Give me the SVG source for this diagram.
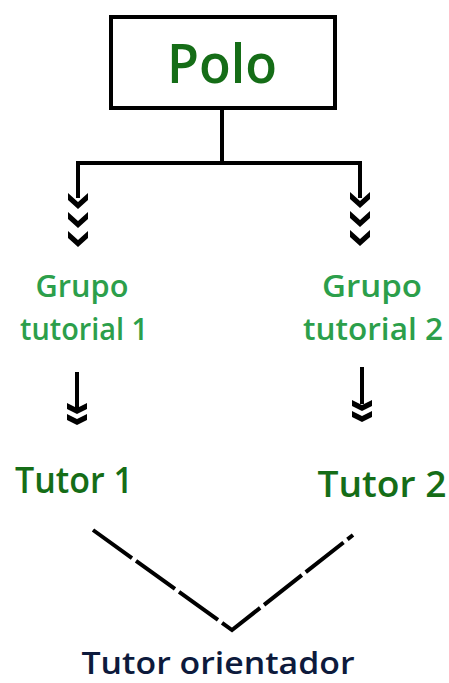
<svg xmlns="http://www.w3.org/2000/svg" width="449" height="683" viewBox="0 0 449 683">
<style>
.t{font-family:"Open Sans","Liberation Sans",sans-serif;font-weight:600;text-anchor:middle}
.dk{fill:#156d17}
.lt{fill:#2c9f4b}
.ln{fill:none;stroke:#000;stroke-width:4}
</style>
<defs>
<polygon id="chev" points="-10,0 0,9 10,0 10,7 0,16 -10,7" fill="#000"/>
<polygon id="chev2" points="-10,0 0,5 10,0 10,6 0,11 -10,6" fill="#000"/>
</defs>
<rect width="449" height="683" fill="#fff"/>
<g id="polo">
<rect x="111" y="17" width="224" height="91" fill="#fff" stroke="#000" stroke-width="4"/>
<text class="t dk" x="222" y="83" font-size="55" textLength="110" lengthAdjust="spacingAndGlyphs">Polo</text>
</g>
<g id="grupo1">
<text class="t lt" x="82" y="297" font-size="30" textLength="93" lengthAdjust="spacingAndGlyphs">Grupo</text>
<text class="t lt" x="84" y="340" font-size="30" textLength="128" lengthAdjust="spacingAndGlyphs">tutorial 1</text>
</g>
<g id="grupo2">
<text class="t lt" x="372" y="297" font-size="30" textLength="100" lengthAdjust="spacingAndGlyphs">Grupo</text>
<text class="t lt" x="373" y="340" font-size="30" textLength="140" lengthAdjust="spacingAndGlyphs">tutorial 2</text>
</g>
<g id="tutor1">
<text class="t dk" x="74" y="493" font-size="36" textLength="118" lengthAdjust="spacingAndGlyphs">Tutor 1</text>
</g>
<g id="tutor2">
<text class="t dk" x="382" y="497" font-size="36" textLength="129" lengthAdjust="spacingAndGlyphs">Tutor 2</text>
</g>
<g id="orientador">
<text class="t" fill="#0d1a3c" x="218" y="674" font-size="30" textLength="273" lengthAdjust="spacingAndGlyphs">Tutor orientador</text>
</g>
<g id="connectors">
<path class="ln" d="M222,108 V163 M78,198 V163 H360 V198"/>
<use href="#chev" x="78" y="193"/>
<use href="#chev" x="78" y="212"/>
<use href="#chev" x="78" y="231"/>
<use href="#chev" x="360" y="192"/>
<use href="#chev" x="360" y="211"/>
<use href="#chev" x="360" y="230"/>
<path class="ln" d="M77,372 V408 M362,367 V404"/>
<use href="#chev2" x="77" y="403"/>
<use href="#chev2" x="77" y="414"/>
<use href="#chev2" x="362" y="400"/>
<use href="#chev2" x="362" y="411"/>
<polyline class="ln" stroke-dasharray="48 5" points="93,530 232,630 353,535"/>
</g>
</svg>
